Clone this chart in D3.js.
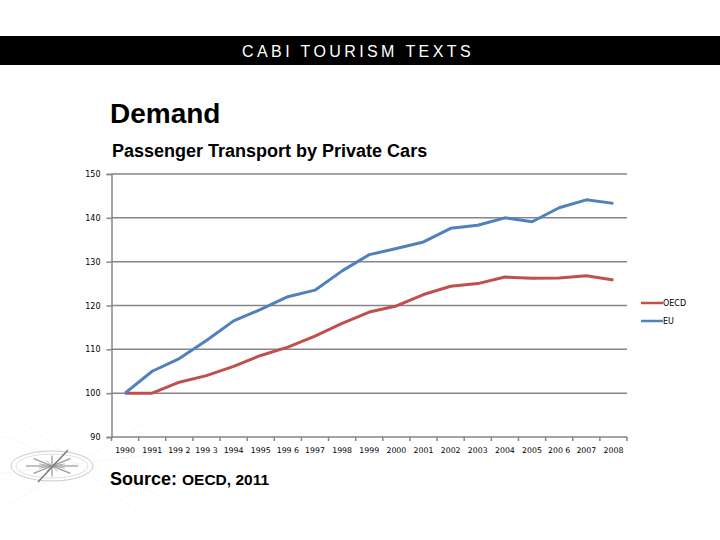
<!DOCTYPE html>
<html><head><meta charset="utf-8">
<script src="https://cdn.jsdelivr.net/npm/d3@7"></script>
<style>html,body{margin:0;padding:0;background:#fff;}svg{display:block;}</style>
</head><body>
<script>
const years = ["1990","1991","1992","1993","1994","1995","1996","1997","1998","1999","2000","2001","2002","2003","2004","2005","2006","2007","2008"];
const yearLabels = ["1990","1991","199 2","199 3","1994","1995","199 6","1997","1998","1999","2000","2001","2002","2003","2004","2005","200 6","2007","2008"];
const oecd = [100,100.0,102.5,104.0,106.1,108.6,110.5,113.0,115.9,118.5,119.9,122.5,124.4,125.0,126.5,126.2,126.3,126.8,125.8];
const eu = [100,105.0,107.9,112.0,116.5,119.1,122.0,123.5,127.9,131.6,133.0,134.5,137.6,138.3,140.0,139.1,142.3,144.1,143.3];
const yTicks = [90,100,110,120,130,140,150];
const seriesNames = ["OECD","EU"];
const seriesColors = ["#C0504D","#4F81BD"];

const W=720,H=540;
const svg=d3.select("body").append("svg").attr("width",W).attr("height",H);

// compass watermark
const cg=svg.append("g").attr("opacity",0.6);
const ccx=52,ccy=466;
[[-50,-30,110,30],[-30,-45,90,50],[-55,8,120,-14],[-45,40,95,-45]].forEach(d=>{
  cg.append("line").attr("x1",ccx+d[0]).attr("y1",ccy+d[1]).attr("x2",ccx+d[2]).attr("y2",ccy+d[3]).attr("stroke","#eee").attr("stroke-width",0.7);
});
cg.append("ellipse").attr("cx",ccx).attr("cy",ccy).attr("rx",41).attr("ry",15).attr("fill","none").attr("stroke","#aaa").attr("stroke-width",1);
cg.append("ellipse").attr("cx",ccx).attr("cy",ccy).attr("rx",36).attr("ry",12).attr("fill","none").attr("stroke","#ccc").attr("stroke-width",1);
for(let i=0;i<16;i++){const a=i*Math.PI/8;const r=(i%2?14:26);
  cg.append("line").attr("x1",ccx).attr("y1",ccy).attr("x2",ccx+r*Math.cos(a)).attr("y2",ccy+r*Math.sin(a)*0.4).attr("stroke","#555").attr("stroke-width",i%2?0.8:1.2);}
cg.append("line").attr("x1",ccx-14).attr("y1",ccy+16).attr("x2",ccx+16).attr("y2",ccy-16).attr("stroke","#222").attr("stroke-width",1.5);

// banner
svg.append("rect").attr("x",0).attr("y",36).attr("width",W).attr("height",29).attr("fill","#000");
svg.append("text").attr("x",358).attr("y",57).attr("text-anchor","middle").attr("fill","#fff")
  .attr("font-family","Liberation Sans, Arial, sans-serif").attr("font-size",16).attr("font-weight",300)
  .attr("letter-spacing","3.4px").text("CABI TOURISM TEXTS");

svg.append("text").attr("x",110).attr("y",123).attr("font-family","Liberation Sans, Arial, sans-serif")
  .attr("font-size",28).attr("font-weight","bold").text("Demand");
svg.append("text").attr("x",112).attr("y",157).attr("font-family","Liberation Sans, Arial, sans-serif")
  .attr("font-size",18).attr("font-weight","bold").text("Passenger Transport by Private Cars");

const x0=111.5,x1=627,yTop=174,yBot=437;
const x=d3.scaleBand().domain(years).range([x0,x1]).padding(0);
const y=d3.scaleLinear().domain([90,150]).range([yBot,yTop]);

const g=svg.append("g");
// gridlines
g.selectAll("line.grid").data(yTicks.filter(t=>t>90)).enter().append("line")
  .attr("x1",x0).attr("x2",x1).attr("y1",d=>y(d)).attr("y2",d=>y(d))
  .attr("stroke","#868686").attr("stroke-width",1.5);

// y axis
const yAxis=d3.axisLeft(y).tickValues(yTicks).tickSize(5).tickPadding(6);
const ya=g.append("g").attr("transform",`translate(${x0},0)`).call(yAxis);
ya.select(".domain").attr("stroke","#868686").attr("stroke-width",1.5);
ya.selectAll(".tick line").attr("stroke","#868686").attr("stroke-width",1.5);
ya.selectAll(".tick text").attr("font-family","DejaVu Sans, Verdana, sans-serif").attr("font-size",8).attr("fill","#000");

// x axis
const xa=g.append("g").attr("transform",`translate(0,${yBot})`);
xa.append("line").attr("x1",x0).attr("x2",x1).attr("y1",0).attr("y2",0).attr("stroke","#868686").attr("stroke-width",1.5);
const bounds=years.map(d=>x(d)).concat([x1]);
xa.selectAll("line.tk").data(bounds).enter().append("line").attr("x1",d=>d).attr("x2",d=>d).attr("y1",0).attr("y2",4)
  .attr("stroke","#868686").attr("stroke-width",1.5);
xa.selectAll("text").data(years).enter().append("text").attr("x",d=>x(d)+x.bandwidth()/2).attr("y",16)
  .attr("text-anchor","middle").attr("font-family","DejaVu Sans, Verdana, sans-serif").attr("font-size",7.8)
  .text((d,i)=>yearLabels[i]);

// lines
const line=d3.line().x((d,i)=>x(years[i])+x.bandwidth()/2).y(d=>y(d));
[oecd,eu].forEach((s,i)=>{
  g.append("path").datum(s).attr("d",line).attr("fill","none").attr("stroke",seriesColors[i]).attr("stroke-width",3).attr("stroke-linejoin","round");
});

// legend
seriesNames.forEach((n,i)=>{
  const ly=303+i*18;
  svg.append("line").attr("x1",641).attr("x2",663).attr("y1",ly).attr("y2",ly).attr("stroke",seriesColors[i]).attr("stroke-width",2.5);
  svg.append("text").attr("x",663).attr("y",ly+3).attr("font-family","DejaVu Sans, Verdana, sans-serif").attr("font-size",8).text(n);
});

// source
const st=svg.append("text").attr("x",110).attr("y",485).attr("font-family","Liberation Sans, Arial, sans-serif").attr("font-weight","bold");
st.append("tspan").attr("font-size",18).text("Source: ");
st.append("tspan").attr("font-size",15.5).text("OECD, 2011");
</script>
</body></html>
